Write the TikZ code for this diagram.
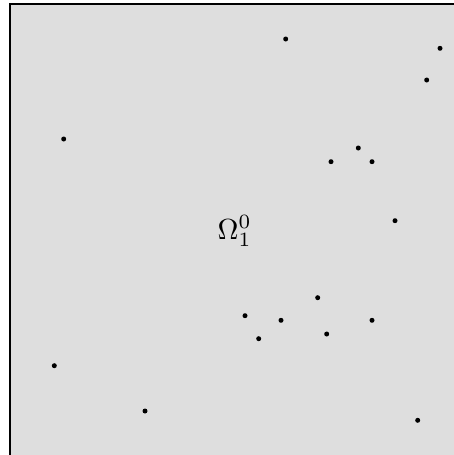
\documentclass[tikz,border=0pt]{standalone}
\begin{document}
\begin{tikzpicture}[x=1pt,y=-1pt,
  dotpt/.style={circle,fill=black,inner sep=0pt,minimum size=5pt},
  region/.style={fill=black!13,draw=black,line width=2pt}]
\useasboundingbox (0,0) rectangle (454,455);
\fill[white] (0,0) rectangle (454,455);
\draw[region] (9.5,3.5) rectangle (470,470);
\node[anchor=base west,inner sep=0pt,scale=2.9] (lbl) at (217,239) {$\Omega_1^0$};
\foreach \x/\y [count=\i] in {285.7/39, 440/48.3, 426.7/80, 63.7/139, 358.3/148, 331/161.7, 372/161.7, 395/220.7, 317.7/297.7, 245/315.7, 281/320.3, 372/320.3, 326.7/334, 258.7/338.7, 54.3/365.7, 145/411, 417.7/420.3}
  \node[dotpt] (p\i) at (\x,\y) {};
\end{tikzpicture}
\end{document}
